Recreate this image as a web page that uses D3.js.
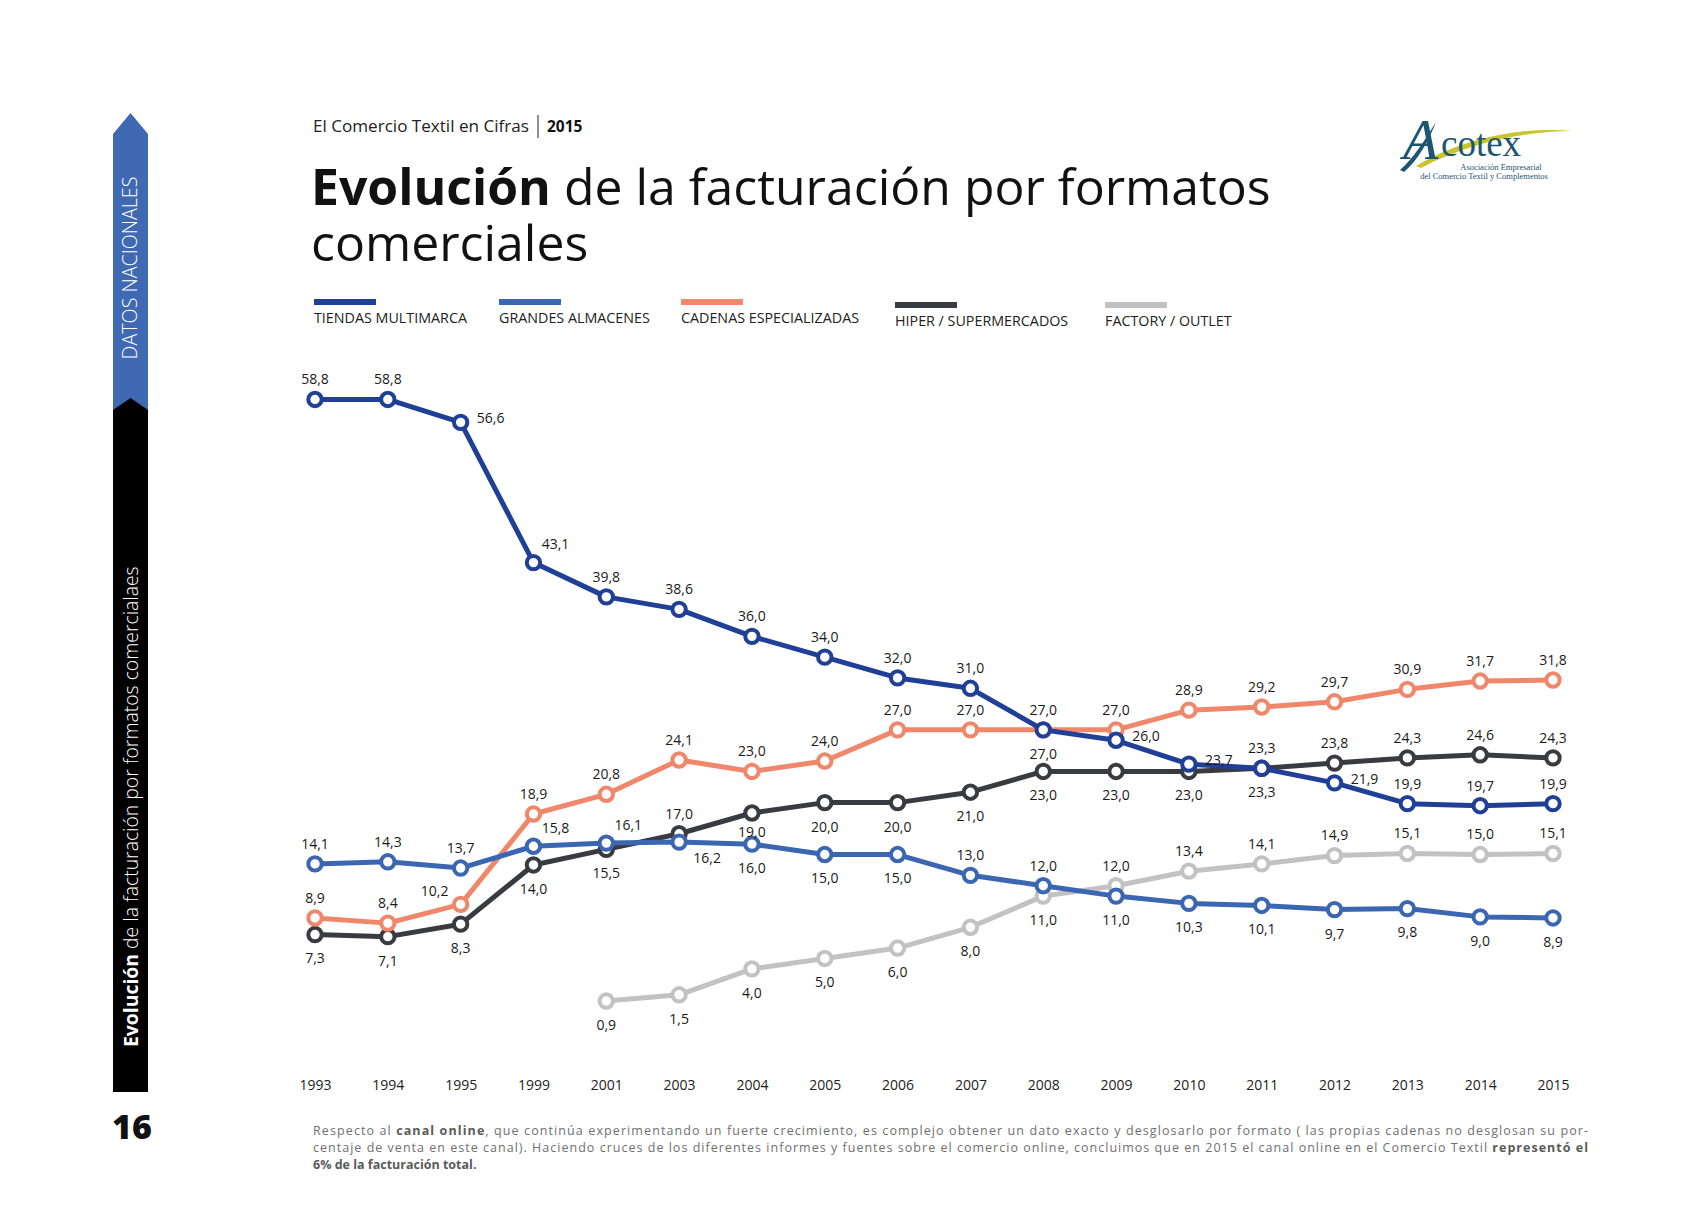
<!DOCTYPE html>
<html><head><meta charset="utf-8">
<script src="https://cdn.jsdelivr.net/npm/d3@7"></script>
<style>body{margin:0;background:#fff}svg{display:block}</style>
</head><body>
<svg id="c" width="1684" height="1208"></svg>
<script>
// ---------- DATA ----------
const years = ["1993","1994","1995","1999","2001","2003","2004","2005","2006","2007","2008","2009","2010","2011","2012","2013","2014","2015"];
const tiendas  = [58.8,58.8,56.6,43.1,39.8,38.6,36.0,34.0,32.0,31.0,27.0,26.0,23.7,23.3,21.9,19.9,19.7,19.9];
const grandes  = [14.1,14.3,13.7,15.8,16.1,16.2,16.0,15.0,15.0,13.0,12.0,11.0,10.3,10.1,9.7,9.8,9.0,8.9];
const cadenas  = [8.9,8.4,10.2,18.9,20.8,24.1,23.0,24.0,27.0,27.0,27.0,27.0,28.9,29.2,29.7,30.9,31.7,31.8];
const hiper    = [7.3,7.1,8.3,14.0,15.5,17.0,19.0,20.0,20.0,21.0,23.0,23.0,23.0,23.3,23.8,24.3,24.6,24.3];
const factory  = [null,null,null,null,0.9,1.5,4.0,5.0,6.0,8.0,11.0,12.0,13.4,14.1,14.9,15.1,15.0,15.1];
const seriesNames = ["TIENDAS MULTIMARCA","GRANDES ALMACENES","CADENAS ESPECIALIZADAS","HIPER / SUPERMERCADOS","FACTORY / OUTLET"];

// label placement codes (t = above, b = below, bs = just below, r = right, tr/br/tl = diagonal)
const tiendasLbl = ["t","t","r","tr","t","t","t","t","t","t","t","r","r","b","r","t","t","t"];
const grandesLbl = ["t","t","t","tr","tr","br","b","b","b","t","t","b","b","b","b","b","b","b"];
const cadenasLbl = ["t","t","tl","t","t","t","t","t","t","t","b","t","t","t","t","t","t","t"];
const hiperLbl   = ["b","b","b","b","b","t","bs","b","b","b","b","b","b","t","t","t","t","t"];
const factoryLbl = [null,null,null,null,"b","b","b","b","b","b","b","t","t","t","t","t","t","t"];

// ---------- STYLE ----------
const colors = ["#203f97","#3b66b2","#f0876a","#3a3a41","#c2c2c2"];
const FONT = "'Open Sans', 'Noto Sans', sans-serif";

const svg = d3.select("#c");
svg.append("rect").attr("width",1684).attr("height",1208).attr("fill","#fff");

function fit(sel, target, base){
  const w = sel.node().getComputedTextLength();
  sel.style("font-size",(base*target/w)+"px");
}

// ---------- SIDEBAR ----------
svg.append("path").attr("d","M113,134 L130.5,113 L148,134 L148,414 L113,414 Z").attr("fill","#3f69b3");
svg.append("path").attr("d","M113,410 L130.5,398 L148,410 L148,1092 L113,1092 Z").attr("fill","#000");
const dn = svg.append("text").attr("transform","translate(137,268) rotate(-90)").attr("text-anchor","middle")
  .attr("fill","#fff").style("font-family",FONT).style("font-size","16px").style("font-weight",300)
  .text("DATOS NACIONALES");
fit(dn,183,16);
const side = svg.append("text").attr("transform","translate(137.5,1047) rotate(-90)")
  .attr("fill","#fff").style("font-family",FONT).style("font-size","16px");
side.append("tspan").style("font-weight",700).text("Evolución");
side.append("tspan").style("font-weight",300).text(" de la facturación por formatos comercialaes");
fit(side,481,16);
svg.append("text").attr("x",112).attr("y",1139).style("font-family",FONT).style("font-size","34px")
  .style("font-weight",800).attr("fill","#111").text("16");

// ---------- HEADER ----------
const hd = svg.append("text").attr("x",313).attr("y",132).style("font-family",FONT).style("font-size","15px")
  .attr("fill","#222").text("El Comercio Textil en Cifras");
fit(hd,216,15);
svg.append("line").attr("x1",538).attr("x2",538).attr("y1",115).attr("y2",138).attr("stroke","#222").attr("stroke-width",1);
svg.append("text").attr("x",547).attr("y",132).style("font-family",FONT).style("font-size","15.5px")
  .style("font-weight",700).attr("fill","#111").text("2015");

const title = svg.append("text").attr("x",311).attr("y",205).style("font-family",FONT).style("font-size","46px").attr("fill","#111");
title.append("tspan").style("font-weight",700).text("Evolución");
const tRest = title.append("tspan").style("font-weight",400).text(" de la facturación por formatos");
title.append("tspan").attr("x",311).attr("dy",56).style("font-weight",400).text("comerciales");
(function(){
  // fit first line to its width in the reference
  const n = title.node();
  const w = n.getSubStringLength(0, "Evolución de la facturación por formatos".length);
  title.style("font-size",(46*960/w)+"px");
})();

// ---------- LOGO ----------
const logo = svg.append("g");
logo.append("path").attr("d","M1416,166 C1462,138 1525,126 1572,131 C1525,131 1468,143 1421,168 Z").attr("fill","#c9c52a");
logo.append("path").attr("d","M1400,170 C1412,160 1425,140 1436,122 C1428,142 1418,160 1404,172 Z").attr("fill","#1c5672");
logo.append("text").attr("x",1403).attr("y",159).style("font-family","'Liberation Serif', serif").style("font-style","italic")
  .style("font-size","58px").attr("fill","#1c5672").text("A");
logo.append("text").attr("x",1441).attr("y",156).style("font-family","'Liberation Serif', serif")
  .style("font-size","37px").attr("fill","#1c5672").text("cotex");
logo.append("text").attr("x",1501).attr("y",170).attr("text-anchor","middle").style("font-family","'Liberation Serif', serif")
  .style("font-size","8.5px").attr("fill","#1c5672").text("Asociación Empresarial");
logo.append("text").attr("x",1484).attr("y",179).attr("text-anchor","middle").style("font-family","'Liberation Serif', serif")
  .style("font-size","8.5px").attr("fill","#1c5672").text("del Comercio Textil y Complementos");

// ---------- LEGEND ----------
const legX = [314,499,681,895,1105];
const legDy = [0,0,0,3,3];
seriesNames.forEach((n,i)=>{
  svg.append("rect").attr("x",legX[i]).attr("y",299+legDy[i]).attr("width",62).attr("height",6).attr("fill",colors[i]);
  svg.append("text").attr("x",legX[i]).attr("y",323+legDy[i]).style("font-family",FONT).style("font-size","14.3px")
    .style("font-weight",400).attr("fill","#222").text(n);
});

// ---------- CHART ----------
const x = d3.scalePoint().domain(years).range([315,1553]);
const y = d3.scaleLinear().domain([0,60]).range([1010.4,387]);

const axis = d3.axisBottom(x).tickSize(0).tickPadding(0);
const ax = svg.append("g").attr("transform","translate(0,1080)").call(axis);
ax.select(".domain").remove();
ax.selectAll("text").style("font-family",FONT).style("font-size","14px").style("font-weight",400).attr("fill","#222");

const series = [
  {vals:factory, lbl:factoryLbl, c:colors[4]},
  {vals:hiper, lbl:hiperLbl, c:colors[3]},
  {vals:cadenas, lbl:cadenasLbl, c:colors[2]},
  {vals:grandes, lbl:grandesLbl, c:colors[1]},
  {vals:tiendas, lbl:tiendasLbl, c:colors[0]}
];
const line = d3.line().defined(d=>d.v!=null).x(d=>x(d.yr)).y(d=>y(d.v));
const fmt = v => d3.format(".1f")(v).replace(".",",");
const off = {t:[0,-20], b:[0,24], bs:[0,19], r:[30,-4], tr:[22,-18], br:[28,16], tl:[-26,-13]};

series.forEach(s=>{
  const pts = years.map((yr,i)=>({yr, v:s.vals[i], p:s.lbl[i]}));
  const g = svg.append("g");
  g.append("path").attr("d",line(pts)).attr("fill","none").attr("stroke",s.c).attr("stroke-width",5).attr("stroke-linejoin","round");
  const dp = pts.filter(d=>d.v!=null);
  g.selectAll("circle").data(dp).join("circle").attr("cx",d=>x(d.yr)).attr("cy",d=>y(d.v)).attr("r",6.7)
    .attr("fill","#fff").attr("stroke",s.c).attr("stroke-width",4);
  s.dp = dp;
});
series.forEach(s=>{
  svg.append("g").selectAll("text").data(s.dp).join("text")
    .attr("x",d=>x(d.yr)+off[d.p][0]).attr("y",d=>y(d.v)+off[d.p][1]).attr("dy","0.35em")
    .attr("text-anchor","middle").style("font-family",FONT).style("font-size","14px").attr("fill","#1a1a1a")
    .text(d=>fmt(d.v));
});

// ---------- FOOTNOTE ----------
const fn = svg.append("g").style("font-family",FONT).style("font-size","12.5px").attr("fill","#707070");
const l1 = fn.append("text").attr("x",313).attr("y",1135).attr("textLength",1275).attr("lengthAdjust","spacing");
l1.append("tspan").text("Respecto al ");
l1.append("tspan").style("font-weight",700).attr("fill","#5a5a5a").text("canal online");
l1.append("tspan").text(", que continúa experimentando un fuerte crecimiento, es complejo obtener un dato exacto y desglosarlo por formato ( las propias cadenas no desglosan su por-");
const l2 = fn.append("text").attr("x",313).attr("y",1152).attr("textLength",1275).attr("lengthAdjust","spacing");
l2.append("tspan").text("centaje de venta en este canal).  Haciendo cruces de los diferentes informes y fuentes sobre el comercio online, concluimos que en 2015 el canal online en el Comercio Textil ");
l2.append("tspan").style("font-weight",700).attr("fill","#5a5a5a").text("representó el");
fn.append("text").attr("x",313).attr("y",1169).style("font-weight",700).attr("fill","#5a5a5a").text("6% de la facturación total.");
</script>
</body></html>
